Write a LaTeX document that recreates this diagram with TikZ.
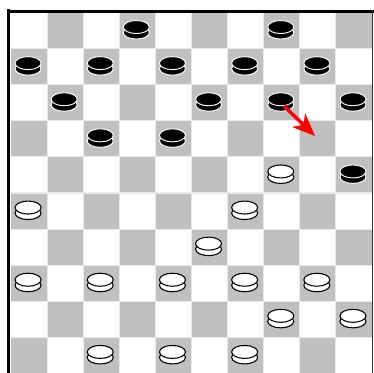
\documentclass[tikz,border=0pt]{standalone}
\usetikzlibrary{arrows.meta}
\definecolor{brettgrau}{RGB}{192,192,192}
\definecolor{fuge}{RGB}{234,234,234}
\definecolor{pfeilrot}{RGB}{255,0,0}
\tikzset{
  schwarz/.style={fill=black, draw=white, line width=0.7pt},
  weiss/.style={fill=white, draw=black, line width=0.8pt},
}
\begin{document}
\begin{tikzpicture}[x=0.75pt, y=-0.75pt, >=latex]
\useasboundingbox (0,0) rectangle (374,373);
\clip (0,0) rectangle (374,373);
\fill[white] (0,0) rectangle (374,373);
% Brett mit 10x10 Feldern, grau wenn Zeile+Spalte ungerade
\foreach \z in {0,...,9} {
  \foreach \s in {0,...,9} {
    \pgfmathtruncatemacro{\ung}{mod(\z+\s,2)}
    \ifnum\ung=1
      \fill[brettgrau] ({11+\s*36.1}, {12.5+\z*36.1}) rectangle ++(36.1,36.1);
    \fi
  }
}
% helle Fugen zwischen den Feldern
\foreach \i in {1,...,9} {
  \draw[fuge, line width=0.8] ({11+\i*36.1}, 12.5) -- ++(0,361);
  \draw[fuge, line width=0.8] (11, {12.5+\i*36.1}) -- ++(361,0);
}
% Rahmen oben, links und rechts
\draw[line width=2.2pt] (7,11.2) -- (374,11.2);
\draw[line width=2.4pt] (8.8,9.5) -- (8.8,373);
\draw[line width=1.3pt, black!80] (372.6,10) -- (372.6,373);
% schwarze Steine
\foreach \s/\z in {3/0,7/0, 0/1,2/1,4/1,6/1,8/1, 1/2,5/2,7/2,9/2, 2/3,4/3, 9/4} {
  \path[schwarz] ({11+(\s+.5)*36.1-1}, {12.5+(\z+.5)*36.1+2}) ellipse (13 and 6.5);
  \path[schwarz] ({11+(\s+.5)*36.1-1}, {12.5+(\z+.5)*36.1-3.5}) ellipse (13 and 6.5);
}
% weisse Steine
\foreach \s/\z in {7/4, 0/5,6/5, 5/6, 0/7,2/7,4/7,6/7,8/7, 7/8,9/8, 2/9,4/9,6/9} {
  \path[weiss] ({11+(\s+.5)*36.1-1}, {12.5+(\z+.5)*36.1+2}) ellipse (13 and 6.5);
  \path[weiss] ({11+(\s+.5)*36.1-1}, {12.5+(\z+.5)*36.1-3.5}) ellipse (13 and 6.5);
}
% Zugpfeil
\coordinate (start) at (284,106);
\coordinate (ziel) at (315,136);
\draw[pfeilrot, line width=2.6pt, -{Stealth[length=17pt, width=14pt, inset=5pt]}] (start) -- (ziel);
\end{tikzpicture}
\end{document}
